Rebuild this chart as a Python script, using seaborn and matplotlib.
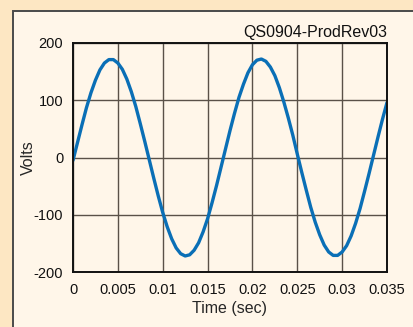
import numpy as np
import pandas as pd
import seaborn as sns
import matplotlib.pyplot as plt
from matplotlib.patches import Rectangle

# Values, every 0.5 ms
time_sec = [i * 0.0005 for i in range(71)]
volts = [-5, 26, 57, 87, 113, 135, 153, 165, 171, 171,
         165, 154, 137, 115, 89, 59, 28, -4, -36, -67,
         -96, -121, -142, -158, -168, -172, -170, -162, -149, -130,
         -107, -79, -49, -17, 15, 47, 77, 105, 128, 148,
         162, 170, 172, 168, 158, 143, 122, 97, 69, 39,
         6, -26, -57, -87, -113, -135, -153, -165, -171, -171,
         -165, -154, -137, -115, -89, -59, -28, 4, 36, 67, 96]
x_ticks = [0, 0.005, 0.01, 0.015, 0.02, 0.025, 0.03, 0.035]
x_labels = ['0', '0.005', '0.01', '0.015', '0.02', '0.025', '0.03', '0.035']
y_ticks = [-200, -100, 0, 100, 200]

df = pd.DataFrame({'t': time_sec, 'v': volts})

sns.set_style('white')
plt.rcParams['font.family'] = ['Liberation Sans', 'DejaVu Sans']
plt.rcParams['axes.unicode_minus'] = False

fig = plt.figure(figsize=(4.13, 3.27), dpi=100, facecolor='#fde7c3')
# cream inner panel with dark border, running off right and bottom
fig.patches.append(Rectangle((12.5 / 413, -0.05), 1.1, 1 - 10.5 / 327 + 0.05,
                             transform=fig.transFigure, facecolor='#fff6e9',
                             edgecolor='#4a4a4a', linewidth=1.4, zorder=-1))

ax = fig.add_axes([73 / 413, 1 - 272 / 327, (387 - 73) / 413, (272 - 43) / 327])
ax.set_facecolor('#fff6e9')
sns.lineplot(data=df, x='t', y='v', ax=ax, color='#0a6fb6', linewidth=2.4)

ax.set_xlim(0, 0.035)
ax.set_ylim(-200, 200)
ax.set_xticks(x_ticks)
ax.set_xticklabels(x_labels)
ax.set_yticks(y_ticks)
ax.tick_params(length=0, labelsize=10.5, colors='#111111')
ax.tick_params(axis='y', pad=7)
ax.tick_params(axis='x', pad=8)
ax.grid(True, color='#5a5148', linewidth=1.0)
for s in ax.spines.values():
    s.set_color('#111111')
    s.set_linewidth(1.4)
    s.set_visible(True)

ax.set_xlabel('Time (sec)', fontsize=11.5, labelpad=3)
ax.set_ylabel('Volts', fontsize=11.5)
ax.yaxis.set_label_coords(-0.118, 0.5)
ax.text(1.0, 1.012, 'QS0904-ProdRev03', transform=ax.transAxes,
        ha='right', va='bottom', fontsize=11.5, color='#111111')

fig.savefig('out.png', dpi=100, facecolor=fig.get_facecolor())
